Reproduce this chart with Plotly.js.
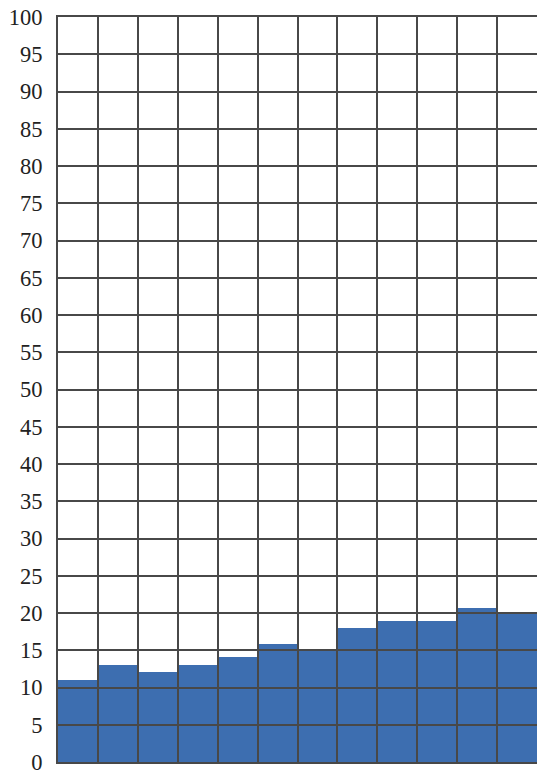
<!DOCTYPE html>
<html>
<head>
<meta charset="utf-8">
<script src="https://cdn.plot.ly/plotly-3.0.1.min.js"></script>
<style>html,body{margin:0;padding:0;background:#fff;}#chart{width:537px;height:770px;}</style>
</head>
<body>
<div id="chart"></div>
<script>
const categories = ["1","2","3","4","5","6","7","8","9","10","11","12"];
const values = [11, 13, 12.1, 13, 14.1, 15.8, 15.1, 18, 18.9, 18.9, 20.7, 20.1];
const yTickValues = [0,5,10,15,20,25,30,35,40,45,50,55,60,65,70,75,80,85,90,95,100];

const barColor = '#3d6eb0';
const gridColor = '#484848';

const traces = [
  {
    type: 'bar',
    x: categories,
    y: values,
    marker: { color: barColor, line: { width: 0 } },
    hoverinfo: 'skip'
  },
  {
    type: 'scatter',
    x: [], y: [],
    xaxis: 'x2', yaxis: 'y2',
    hoverinfo: 'skip',
    showlegend: false
  }
];

const layout = {
  width: 537, height: 770,
  margin: { l: 58, r: 0, t: 17, b: 8, pad: 0 },
  font: { family: 'Liberation Serif', size: 22, color: '#222222' },
  paper_bgcolor: '#ffffff',
  plot_bgcolor: 'rgba(0,0,0,0)',
  showlegend: false,
  bargap: 0,
  xaxis: {
    type: 'category',
    range: [-0.5, categories.length - 0.5],
    showgrid: false, showticklabels: false, zeroline: false, showline: false, ticks: ''
  },
  yaxis: {
    range: [0, 100],
    tickvals: yTickValues,
    showgrid: false, zeroline: false, showline: false,
    ticks: 'outside', ticklen: 10, tickcolor: 'rgba(0,0,0,0)',
    ticklabeloverflow: 'allow',
    tickfont: { family: 'Liberation Serif', size: 22.5, color: '#222222' }
  },
  xaxis2: {
    anchor: 'y2', domain: [0, 1],
    range: [-0.5, categories.length - 0.5],
    tickmode: 'linear', tick0: -0.5, dtick: 1,
    showgrid: true, gridcolor: gridColor, gridwidth: 2,
    showticklabels: false, ticks: '', zeroline: false,
    showline: true, linecolor: gridColor, linewidth: 2, mirror: true
  },
  yaxis2: {
    anchor: 'x2', domain: [0, 1],
    range: [0, 100],
    tickvals: yTickValues,
    showgrid: true, gridcolor: gridColor, gridwidth: 2,
    showticklabels: false, ticks: '', zeroline: false,
    showline: true, linecolor: gridColor, linewidth: 2
  }
};

Plotly.newPlot('chart', traces, layout, { displayModeBar: false, staticPlot: true });
</script>
</body>
</html>
